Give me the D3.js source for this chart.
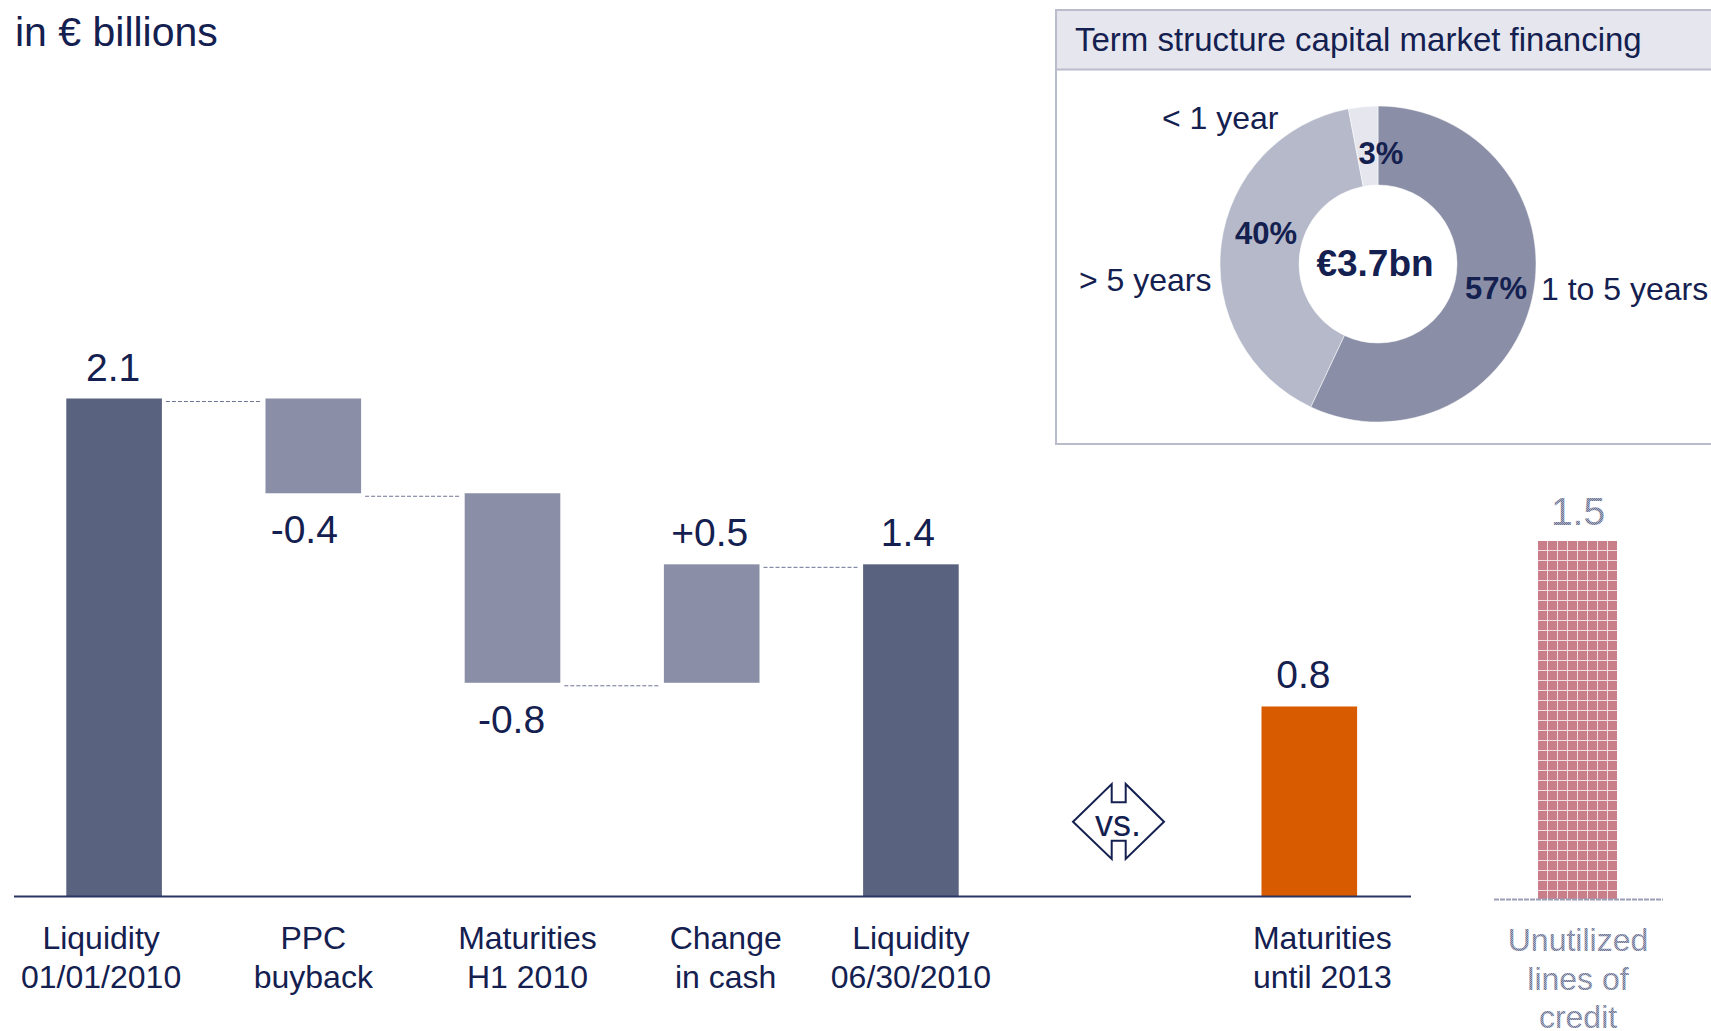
<!DOCTYPE html>
<html>
<head>
<meta charset="utf-8">
<script src="https://cdn.jsdelivr.net/npm/d3@7"></script>
<style>
  html, body { margin: 0; padding: 0; background: #fff; overflow: hidden; }
  text { font-family: "Liberation Sans", Arial, sans-serif; fill: #14204f; }
</style>
</head>
<body>
<script>
// waterfall
var categories = ["Liquidity\n01/01/2010", "PPC\nbuyback", "Maturities\nH1 2010", "Change\nin cash", "Liquidity\n06/30/2010", "", "Maturities\nuntil 2013"];
var barValues = [2.1, -0.4, -0.8, 0.5, 1.4, null, 0.8];
var barLabels = ["2.1", "-0.4", "-0.8", "+0.5", "1.4", "", "0.8"];
var barKinds = ["total", "delta", "delta", "delta", "total", "none", "compare"];

// separate bar on the right
var creditValue = 1.5;
var creditLabel = "1.5";
var creditCategory = ["Unutilized", "lines of", "credit"];

// donut
var termLabels = ["1 to 5 years", "> 5 years", "< 1 year"];
var termShares = [57, 40, 3];
var termTotal = "€3.7bn";

var navy = "#14204f";
var colors = { total: "#59627f", delta: "#8a8ea6", compare: "#d95b00" };
var donutColors = ["#8a8ea6", "#b5b9c9", "#e6e7ee"];

var svg = d3.select("body").append("svg").attr("width", 1711).attr("height", 1031);
var defs = svg.append("defs");

// fine dither with a white grid on top, like the printed hatch
var hatch = defs.append("pattern").attr("id", "hatch")
  .attr("patternUnits", "userSpaceOnUse").attr("width", 10).attr("height", 10)
  .attr("x", 1538).attr("y", 541);
hatch.append("rect").attr("width", 10).attr("height", 10).attr("fill", "#c97f89");
hatch.append("rect").attr("x", 9).attr("width", 1).attr("height", 10).attr("fill", "#f3dfe1");
hatch.append("rect").attr("y", 9).attr("width", 10).attr("height", 1).attr("fill", "#f3dfe1");

var dither = defs.append("pattern").attr("id", "dither")
  .attr("patternUnits", "userSpaceOnUse").attr("width", 2).attr("height", 2);
dither.append("rect").attr("width", 2).attr("height", 2).attr("fill", "#a9aec2");
dither.append("rect").attr("width", 1).attr("height", 1).attr("fill", "#6f7795");
dither.append("rect").attr("x", 1).attr("y", 1).attr("width", 1).attr("height", 1).attr("fill", "#6f7795");

var x = d3.scaleBand().domain(d3.range(categories.length)).range([14.5, 1408.9]).paddingInner(0.52).paddingOuter(0.26);
var y = d3.scaleLinear().domain([0, 2.1]).range([896, 398.5]);

// running total for the floating bars
var segments = [];
var running = 0;
barValues.forEach(function(v, i) {
  if (v === null) return;
  if (barKinds[i] === "delta") {
    segments.push({ i: i, from: running, to: running + v, kind: barKinds[i] });
    running += v;
  } else {
    segments.push({ i: i, from: 0, to: v, kind: barKinds[i] });
    if (barKinds[i] === "total") running = v;
  }
});

svg.append("g").selectAll("rect").data(segments).join("rect")
  .attr("x", function(d) { return x(d.i); })
  .attr("width", x.bandwidth())
  .attr("y", function(d) { return y(Math.max(d.from, d.to)); })
  .attr("height", function(d) { return Math.abs(y(d.from) - y(d.to)); })
  .attr("fill", function(d) { return colors[d.kind]; });

// connectors between the bars
var connectors = segments.slice(0, 4);
svg.append("g").selectAll("line").data(connectors).join("line")
  .attr("x1", function(d) { return x(d.i) + x.bandwidth() + 4; })
  .attr("x2", function(d) { return x(d.i + 1) - 5; })
  .attr("y1", function(d) { return y(d.to) + 3; })
  .attr("y2", function(d) { return y(d.to) + 3; })
  .attr("stroke", "#6d7392").attr("stroke-width", 1).attr("stroke-dasharray", "4 2");

svg.append("line").attr("x1", 14).attr("x2", 1411).attr("y1", 896.5).attr("y2", 896.5)
  .attr("stroke", "#2a3563").attr("stroke-width", 2);

// value labels
var labelShift = [-1, -9, -1, -2, -3, 0, -6];
svg.append("g").selectAll("text").data(segments).join("text")
  .attr("text-anchor", "middle")
  .attr("font-size", 39)
  .attr("x", function(d) { return x(d.i) + x.bandwidth() / 2 + labelShift[d.i]; })
  .attr("y", function(d) {
    if (d.to < d.from) return y(d.to) + 50;
    return y(d.to) - 18;
  })
  .text(function(d) { return barLabels[d.i]; });

// category labels
var catShift = [-13, 0, 15, 14, 0, 0, 13];
categories.forEach(function(c, i) {
  if (!c) return;
  c.split("\n").forEach(function(line, k) {
    svg.append("text").attr("text-anchor", "middle").attr("font-size", 32)
      .attr("x", x(i) + x.bandwidth() / 2 + catShift[i])
      .attr("y", 949 + k * 38.5)
      .text(line);
  });
});

// vs. marker
var vs = [[1111.7, 784], [1111.7, 802.3], [1125.7, 802.3], [1125.7, 784], [1164, 821.7], [1125.7, 859],
  [1125.7, 840.7], [1111.7, 840.7], [1111.7, 859], [1073, 821.7]];
svg.append("path").attr("d", d3.line()(vs) + "Z").attr("fill", "none").attr("stroke", navy).attr("stroke-width", 2);
svg.append("text").attr("x", 1118).attr("y", 836).attr("text-anchor", "middle").attr("font-size", 36).text("vs.");

// unutilized credit bar
var creditY = d3.scaleLinear().domain([0, 1.5]).range([899, 541]);
svg.append("rect").attr("x", 1538).attr("width", 79)
  .attr("y", creditY(creditValue)).attr("height", creditY(0) - creditY(creditValue))
  .attr("fill", "url(#hatch)");
svg.append("line").attr("x1", 1494).attr("x2", 1663).attr("y1", 899.5).attr("y2", 899.5)
  .attr("stroke", "#9aa0b8").attr("stroke-width", 2).attr("stroke-dasharray", "5 1");
svg.append("text").attr("x", 1578).attr("y", 525).attr("text-anchor", "middle").attr("font-size", 39)
  .style("fill", "url(#dither)").text(creditLabel);
creditCategory.forEach(function(line, k) {
  svg.append("text").attr("x", 1578).attr("y", 951 + k * 38.5).attr("text-anchor", "middle").attr("font-size", 32)
    .style("fill", "url(#dither)").text(line);
});

// panel with the donut
svg.append("rect").attr("x", 1056).attr("y", 10).attr("width", 660).attr("height", 60).attr("fill", "#e6e7ee");
svg.append("rect").attr("x", 1056).attr("y", 10).attr("width", 660).attr("height", 434)
  .attr("fill", "none").attr("stroke", "#b8bccb").attr("stroke-width", 2);
svg.append("line").attr("x1", 1056).attr("x2", 1711).attr("y1", 69.5).attr("y2", 69.5)
  .attr("stroke", "#b8bccb").attr("stroke-width", 2);
svg.append("text").attr("x", 1075).attr("y", 51).attr("font-size", 33).text("Term structure capital market financing");

var pie = d3.pie().sort(null)(termShares);
var arc = d3.arc().innerRadius(79).outerRadius(158);
var donut = svg.append("g").attr("transform", "translate(1378,264)");
donut.selectAll("path").data(pie).join("path")
  .attr("d", arc)
  .attr("fill", function(d, i) { return donutColors[i]; })
  .attr("stroke", "#fff").attr("stroke-width", 0.5);

var shareX = [118, -112, 3];
var shareY = [24, -31, -111];
donut.selectAll("text.share").data(termShares).join("text").attr("class", "share")
  .attr("text-anchor", "middle").attr("font-size", 31).attr("font-weight", "bold")
  .attr("x", function(d, i) { return shareX[i]; })
  .attr("y", function(d, i) { return shareY[i] + 11; })
  .text(function(d) { return d + "%"; });

donut.append("text").attr("x", -3).attr("y", 12).attr("text-anchor", "middle")
  .attr("font-size", 37).attr("font-weight", "bold").text(termTotal);

var termX = [1541, 1079, 1162];
var termY = [300, 291, 129];
termLabels.forEach(function(t, i) {
  svg.append("text").attr("x", termX[i]).attr("y", termY[i]).attr("font-size", 32).text(t);
});

svg.append("text").attr("x", 15).attr("y", 46).attr("font-size", 41).text("in € billions");
</script>
</body>
</html>
